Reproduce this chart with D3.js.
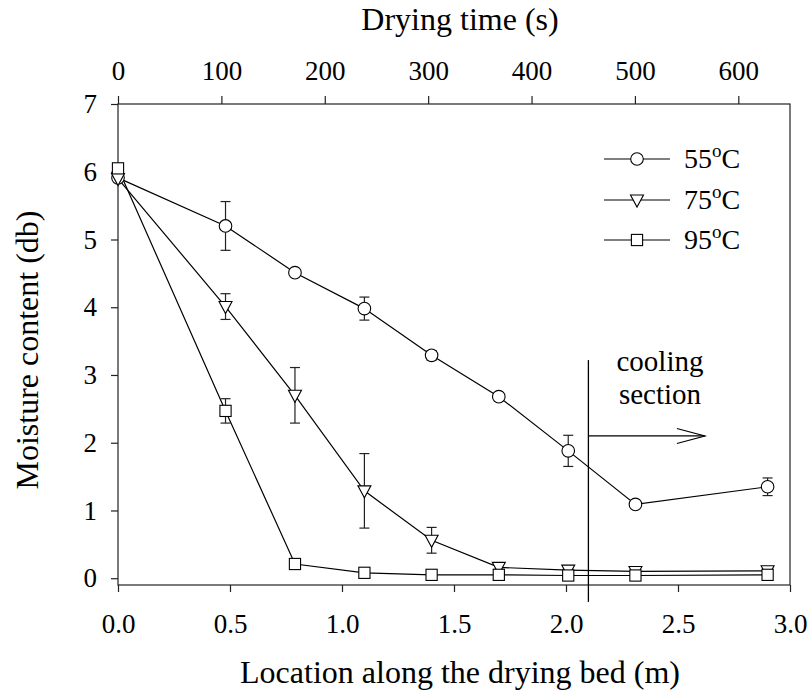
<!DOCTYPE html>
<html lang="en">
<head>
<meta charset="UTF-8">
<title>Moisture content along the drying bed</title>
<style>
  body { margin: 0; background: #fff; }
  svg text { font-family: "Liberation Serif", Tinos, "Times New Roman", "DejaVu Serif", "Noto Serif", serif; fill: #000; }
</style>
</head>
<body>
<div id="chart"></div>
<script src="https://cdn.jsdelivr.net/npm/d3@7"></script>
<script>
// location along the bed (m)
var locations = [0, 0.48, 0.79, 1.1, 1.4, 1.7, 2.01, 2.31, 2.9];
// moisture content (db) and error half-widths per drying temperature
var mc55 = [5.91, 5.20, 4.51, 3.98, 3.29, 2.68, 1.88, 1.09, 1.35];
var err55 = [0, 0.36, 0, 0.17, 0.07, 0.06, 0.23, 0, 0.13];
var mc75 = [5.90, 4.01, 2.70, 1.29, 0.56, 0.16, 0.12, 0.10, 0.11];
var err75 = [0, 0.19, 0.41, 0.55, 0.19, 0.03, 0.03, 0.03, 0.03];
var mc95 = [6.05, 2.47, 0.21, 0.08, 0.05, 0.05, 0.04, 0.04, 0.05];
var err95 = [0, 0.18, 0, 0, 0, 0, 0, 0, 0];
var seriesNames = ["55", "75", "95"];
var xTicks = [0, 0.5, 1.0, 1.5, 2.0, 2.5, 3.0];
var timeTicks = [0, 100, 200, 300, 400, 500, 600];
var yTicks = [0, 1, 2, 3, 4, 5, 6, 7];

(function() {
  var width = 810, height = 696;
  var left = 118, right = 790, top = 104, bottom = 585;

  var svg = d3.select("#chart").append("svg")
    .attr("width", width)
    .attr("height", height);

  var x = d3.scaleLinear().domain([0, 3]).range([left, right]);
  var xt = d3.scaleLinear().domain([0, 650]).range([left, right]);
  var y = d3.scaleLinear().domain([-0.1, 7]).range([bottom, top]);

  var series = [
    { name: seriesNames[0], values: mc55, err: err55, shape: "circle" },
    { name: seriesNames[1], values: mc75, err: err75, shape: "triangle" },
    { name: seriesNames[2], values: mc95, err: err95, shape: "square" }
  ];

  function marker(sel, shape) {
    if (shape === "circle") {
      sel.append("circle").attr("r", 6.3);
    } else if (shape === "triangle") {
      sel.append("path").attr("d", "M-6.5,-5 L6.5,-5 L0,7 Z");
    } else {
      sel.append("rect").attr("x", -5.6).attr("y", -5.6).attr("width", 11.2).attr("height", 11.2);
    }
    sel.selectAll("circle,path,rect")
      .attr("fill", "#fff").attr("stroke", "#000").attr("stroke-width", 1.1);
  }

  // axes
  var axisColor = "#222";
  var gb = svg.append("g").attr("transform", "translate(0," + bottom + ")")
    .call(d3.axisBottom(x).tickValues(xTicks).tickFormat(d3.format(".1f")).tickSize(7).tickPadding(22));
  var gt = svg.append("g").attr("transform", "translate(0," + top + ")")
    .call(d3.axisTop(xt).tickValues(timeTicks).tickSize(8).tickPadding(16));
  var gl = svg.append("g").attr("transform", "translate(" + left + ",0)")
    .call(d3.axisLeft(y).tickValues(yTicks).tickSize(7).tickPadding(14));

  [gb, gt, gl].forEach(function(g) {
    g.select(".domain").remove();
    g.attr("font-family", null);
    g.selectAll("line").attr("stroke", axisColor).attr("stroke-width", 1.2);
    g.selectAll("text").attr("font-size", 27);
  });

  svg.append("rect")
    .attr("x", left).attr("y", top)
    .attr("width", right - left).attr("height", bottom - top)
    .attr("fill", "none").attr("stroke", axisColor).attr("stroke-width", 1.2);

  // axis titles
  svg.append("text")
    .attr("x", (left + right) / 2 + 6).attr("y", 683)
    .attr("text-anchor", "middle").attr("font-size", 32)
    .text("Location along the drying bed (m)");
  svg.append("text")
    .attr("x", (left + right) / 2 + 6).attr("y", 30)
    .attr("text-anchor", "middle").attr("font-size", 32)
    .text("Drying time (s)");
  svg.append("text")
    .attr("transform", "translate(38," + 350 + ") rotate(-90)")
    .attr("text-anchor", "middle").attr("font-size", 32)
    .text("Moisture content (db)");

  // cooling section marker
  var coolX = 2.1, coolTop = 3.22, coolBottom = -0.35, arrowY = 2.1, arrowEnd = 2.62;
  svg.append("line")
    .attr("x1", x(coolX)).attr("x2", x(coolX))
    .attr("y1", y(coolTop)).attr("y2", y(coolBottom))
    .attr("stroke", "#000").attr("stroke-width", 1.3);
  svg.append("line")
    .attr("x1", x(coolX)).attr("x2", x(arrowEnd))
    .attr("y1", y(arrowY)).attr("y2", y(arrowY))
    .attr("stroke", "#000").attr("stroke-width", 1.2);
  svg.append("path")
    .attr("d", "M" + (x(arrowEnd) - 28) + "," + (y(arrowY) - 7.5) +
               " L" + x(arrowEnd) + "," + y(arrowY) +
               " L" + (x(arrowEnd) - 28) + "," + (y(arrowY) + 7.5))
    .attr("fill", "none").attr("stroke", "#000").attr("stroke-width", 1.2);
  svg.append("text").attr("x", 660).attr("y", 371).attr("text-anchor", "middle")
    .attr("font-size", 29).text("cooling");
  svg.append("text").attr("x", 660).attr("y", 404).attr("text-anchor", "middle")
    .attr("font-size", 29).text("section");

  var line = d3.line()
    .x(function(d, i) { return x(locations[i]); })
    .y(function(d) { return y(d); });

  // lines
  series.forEach(function(s) {
    svg.append("path")
      .attr("d", line(s.values))
      .attr("fill", "none").attr("stroke", "#000").attr("stroke-width", 1.2);
  });

  // error bars + markers
  series.forEach(function(s) {
    var g = svg.append("g");
    s.values.forEach(function(v, i) {
      var e = s.err[i];
      if (e > 0) {
        var cx = x(locations[i]);
        var eb = g.append("g").attr("stroke", "#222").attr("stroke-width", 1.2);
        eb.append("line").attr("x1", cx).attr("x2", cx).attr("y1", y(v + e)).attr("y2", y(v - e));
        eb.append("line").attr("x1", cx - 5).attr("x2", cx + 5).attr("y1", y(v + e)).attr("y2", y(v + e));
        eb.append("line").attr("x1", cx - 5).attr("x2", cx + 5).attr("y1", y(v - e)).attr("y2", y(v - e));
      }
    });
    s.values.forEach(function(v, i) {
      var m = g.append("g").attr("transform", "translate(" + x(locations[i]) + "," + y(v) + ")");
      marker(m, s.shape);
    });
  });

  // legend
  var legY = [159, 200, 240];
  series.forEach(function(s, i) {
    var lg = svg.append("g").attr("transform", "translate(0," + legY[i] + ")");
    lg.append("line").attr("x1", 604).attr("x2", 670).attr("y1", 0).attr("y2", 0)
      .attr("stroke", "#000").attr("stroke-width", 1.2);
    var m = lg.append("g").attr("transform", "translate(637,0)");
    marker(m, s.shape);
    var t = lg.append("text").attr("x", 684).attr("y", 9).attr("font-size", 28);
    t.append("tspan").text(s.name);
    t.append("tspan").attr("font-size", 19).attr("dy", -11).text("o");
    t.append("tspan").attr("dy", 11).text("C");
  });
})();
</script>
</body>
</html>
